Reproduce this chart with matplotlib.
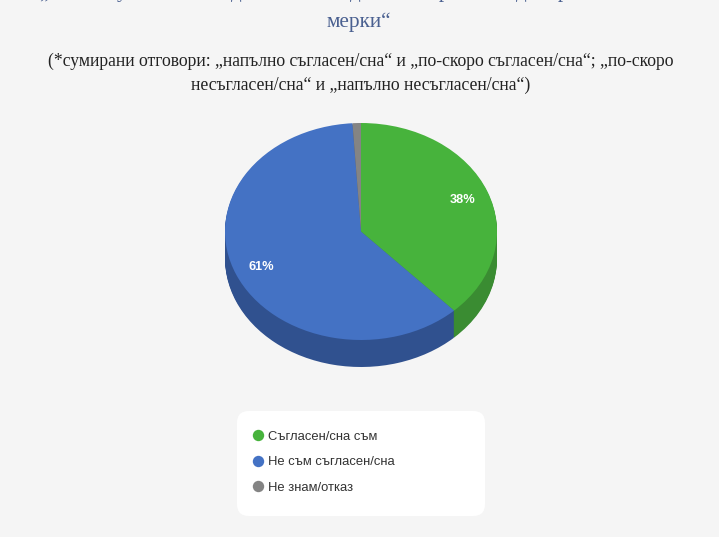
import math
import matplotlib
matplotlib.use("Agg")
import matplotlib.pyplot as plt
from matplotlib.lines import Line2D
from matplotlib.patches import FancyBboxPatch

W, H = 719, 537
categories = ["Съгласен/сна съм", "Не съм съгласен/сна", "Не знам/отказ"]
values = [38, 61, 1]
labels = ["38%", "61%", ""]
top_colors = ["#47b33c", "#4472c4", "#848484"]
side_colors = ["#3a8c32", "#30518f", "#5e5e5e"]
# Only the descenders of the cropped first title line are visible in the reference.
title_fragments = ["„", "у", "д", "д", "р", "д", "р"]
title_last = "мерки“"
sub_lines = ["(*сумирани отговори: „напълно съгласен/сна“ и „по-скоро съгласен/сна“; „по-скоро",
             "несъгласен/сна“ и „напълно несъгласен/сна“)"]

BG = "#f5f5f5"
fig = plt.figure(figsize=(W / 100, H / 100), dpi=100, facecolor=BG)

# overlay in pixel coordinates
ov = fig.add_axes([0, 0, 1, 1], zorder=1)
ov.set_xlim(0, W); ov.set_ylim(H, 0); ov.axis("off")

SERIF = "Liberation Serif"
TITLE = "#4a6090"
for frag, x in zip(title_fragments, [44, 122, 236, 355, 444, 521, 563]):
    ov.text(x, -2.5, frag, ha="center", va="baseline", color=TITLE, fontsize=15, family=SERIF)
ov.text(359, 27, title_last, ha="center", va="baseline", color=TITLE, fontsize=15.3, family=SERIF)
ov.text(361, 66, sub_lines[0], ha="center", va="baseline", color="#222222", fontsize=12.7, family=SERIF)
ov.text(361, 90, sub_lines[1], ha="center", va="baseline", color="#222222", fontsize=12.7, family=SERIF)

ov.add_patch(FancyBboxPatch((246, 420), 230, 87, boxstyle="round,pad=9,rounding_size=12",
                            fc="white", ec="none", zorder=0))

# pie axes: ellipse rx=136, ry=108.5, centre (361, 231.5), depth 27
cx, cy, rx, ry, depth = 361, 231.5, 136, 108.5, 27
extra = depth + 2
ax = fig.add_axes([(cx - rx) / W, 1 - (cy + ry + extra) / H, 2 * rx / W, (2 * ry + extra) / H], zorder=2)

for i in range(depth, 0, -1):
    ax.pie(values, colors=side_colors, startangle=90, counterclock=False, radius=1,
           center=(0, -i / ry), frame=True, wedgeprops=dict(linewidth=0))
ax.pie(values, colors=top_colors, startangle=90, counterclock=False, radius=1,
       center=(0, 0), frame=True, wedgeprops=dict(linewidth=0))
ax.set_xlim(-1, 1)
ax.set_ylim(-1 - extra / ry, 1)
ax.set_aspect("auto")
ax.axis("off")

cum = 0
for v, lab in zip(values, labels):
    mid = math.radians(90 - 3.6 * (cum + v / 2))
    cum += v
    if lab:
        ax.text(0.80 * math.cos(mid), 0.80 * math.sin(mid) - 0.005, lab, color="white", fontsize=9.2,
                fontweight="bold", family="Liberation Sans", ha="center", va="center")

handles = [Line2D([], [], linestyle="none", marker="o", markersize=8.2, markerfacecolor=c,
                  markeredgecolor="none") for c in top_colors]
leg = ov.legend(handles, categories, loc="upper left", bbox_to_anchor=(247.5 / W, 1 - 430.5 / H),
                bbox_transform=fig.transFigure, frameon=False,
                prop=dict(family="Liberation Sans", size=9.35),
                labelspacing=1.05, handletextpad=0.0, borderpad=0, borderaxespad=0, handlelength=1.6)
for t in leg.get_texts():
    t.set_color("#333333")

fig.savefig("out.png", dpi=100, facecolor=BG)
